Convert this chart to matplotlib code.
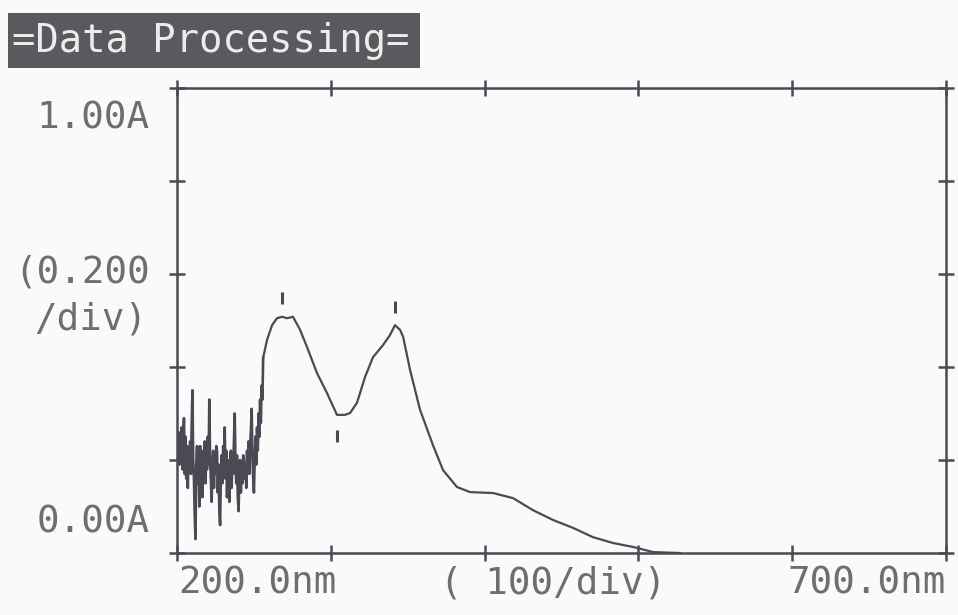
import numpy as np
import matplotlib
matplotlib.use("Agg")
import matplotlib.pyplot as plt
from matplotlib.patches import Rectangle

# noisy start of the scan, 200-255.5 nm, 0.5 nm steps
noise_nm = np.arange(200, 256, 0.5)
noise_abs = [0.24, 0.20, 0.26, 0.19, 0.25, 0.21, 0.27, 0.18, 0.24, 0.29,
             0.17, 0.25, 0.16, 0.23, 0.14, 0.22, 0.19, 0.24, 0.17, 0.27,
             0.35, 0.20, 0.16, 0.08, 0.03, 0.19, 0.23, 0.15, 0.21, 0.10,
             0.23, 0.14, 0.20, 0.12, 0.22, 0.17, 0.24, 0.15, 0.21, 0.18,
             0.25, 0.19, 0.33, 0.20, 0.16, 0.11, 0.19, 0.22, 0.14, 0.21,
             0.17, 0.23, 0.22, 0.13, 0.19, 0.09, 0.06, 0.17, 0.21, 0.15,
             0.23, 0.19, 0.27, 0.16, 0.22, 0.12, 0.20, 0.15, 0.11, 0.18,
             0.22, 0.14, 0.21, 0.17, 0.24, 0.30, 0.19, 0.15, 0.21, 0.12,
             0.09, 0.16, 0.20, 0.13, 0.18, 0.15, 0.21, 0.20, 0.16, 0.19,
             0.14, 0.22, 0.18, 0.24, 0.17, 0.23, 0.26, 0.31, 0.21, 0.16,
             0.13, 0.20, 0.25, 0.19, 0.27, 0.22, 0.30, 0.25, 0.33, 0.28,
             0.36, 0.33]

# smooth part of the spectrum
wl = [256.0, 258.5, 261.8, 265.0, 268.3, 271.5, 275.4, 280.0, 284.5, 291.0,
      297.5, 304.0, 309.0, 312.5, 317.0, 322.2, 327.4, 333.9, 338.5, 341.7,
      345.0, 347.0, 351.5, 358.0, 366.4, 373.0, 382.0, 390.5, 405.5, 418.5,
      431.5, 444.5, 457.5, 470.5, 483.5, 496.5, 509.5, 527.0]
absorb = [0.42, 0.458, 0.49, 0.505, 0.508, 0.505, 0.508, 0.48, 0.443, 0.387,
          0.344, 0.297, 0.297, 0.301, 0.323, 0.378, 0.421, 0.447, 0.469, 0.49,
          0.48, 0.465, 0.394, 0.308, 0.232, 0.178, 0.142, 0.131, 0.129, 0.118,
          0.092, 0.071, 0.054, 0.034, 0.0215, 0.013, 0.002, 0.0]

peak_nm = [268.3, 341.7]
peak_abs = [0.508, 0.49]
valley_nm = [304.0]
valley_abs = [0.297]

ink = "#4a4a55"
txt = "#6e6e72"
mono = "DejaVu Sans Mono"

fig = plt.figure(figsize=(9.58, 6.15), dpi=100, facecolor="#fafafa")
ax = fig.add_axes([0.1848, 0.1008, 0.8027, 0.7561])
ax.set_facecolor("#fafafa")

ax.plot(np.append(noise_nm, wl[0]), np.append(noise_abs, absorb[0]), color=ink, lw=1.9)
ax.plot(wl, absorb, color=ink, lw=1.6)
# peak / valley pick marks
ax.plot(peak_nm, np.array(peak_abs) + 0.04, ls="none", marker="|", ms=9, mew=2.2, color=ink)
ax.plot(valley_nm, np.array(valley_abs) - 0.045, ls="none", marker="|", ms=9, mew=2.2, color=ink)

ax.set_xlim(200, 700)
ax.set_ylim(0, 1.0)
ax.set_xticks(np.arange(200, 701, 100))
ax.set_yticks(np.arange(0, 1.01, 0.2))
ax.tick_params(direction="inout", length=11, width=1.8, color=ink,
               top=True, right=True, labelbottom=False, labelleft=False)
for s in ax.spines.values():
    s.set_color(ink)
    s.set_linewidth(1.8)

fs = 27
fig.text(0.1566, 0.808, "1.00A", ha="right", va="center", family=mono, fontsize=fs, color=txt)
fig.text(0.1566, 0.5577, "(0.200", ha="right", va="center", family=mono, fontsize=fs, color=txt)
fig.text(0.1535, 0.4797, "/div)", ha="right", va="center", family=mono, fontsize=fs, color=txt)
fig.text(0.1566, 0.151, "0.00A", ha="right", va="center", family=mono, fontsize=fs, color=txt)
fig.text(0.1858, 0.052, "200.0nm", ha="left", va="center", family=mono, fontsize=fs, color=txt)
fig.text(0.459, 0.052, "( 100/div)", ha="left", va="center", family=mono, fontsize=fs, color=txt)
fig.text(0.9875, 0.052, "700.0nm", ha="right", va="center", family=mono, fontsize=fs, color=txt)

# title bar
fig.patches.append(Rectangle((8 / 958, 1 - 68 / 615), 412 / 958, 55 / 615,
                             transform=fig.transFigure, facecolor="#5a5a5e", edgecolor="none"))
fig.text(12 / 958, 1 - 41 / 615, "=Data Processing=", ha="left", va="center",
         family=mono, fontsize=28, color="#ececec")

fig.savefig("out.png", dpi=100, facecolor=fig.get_facecolor())
